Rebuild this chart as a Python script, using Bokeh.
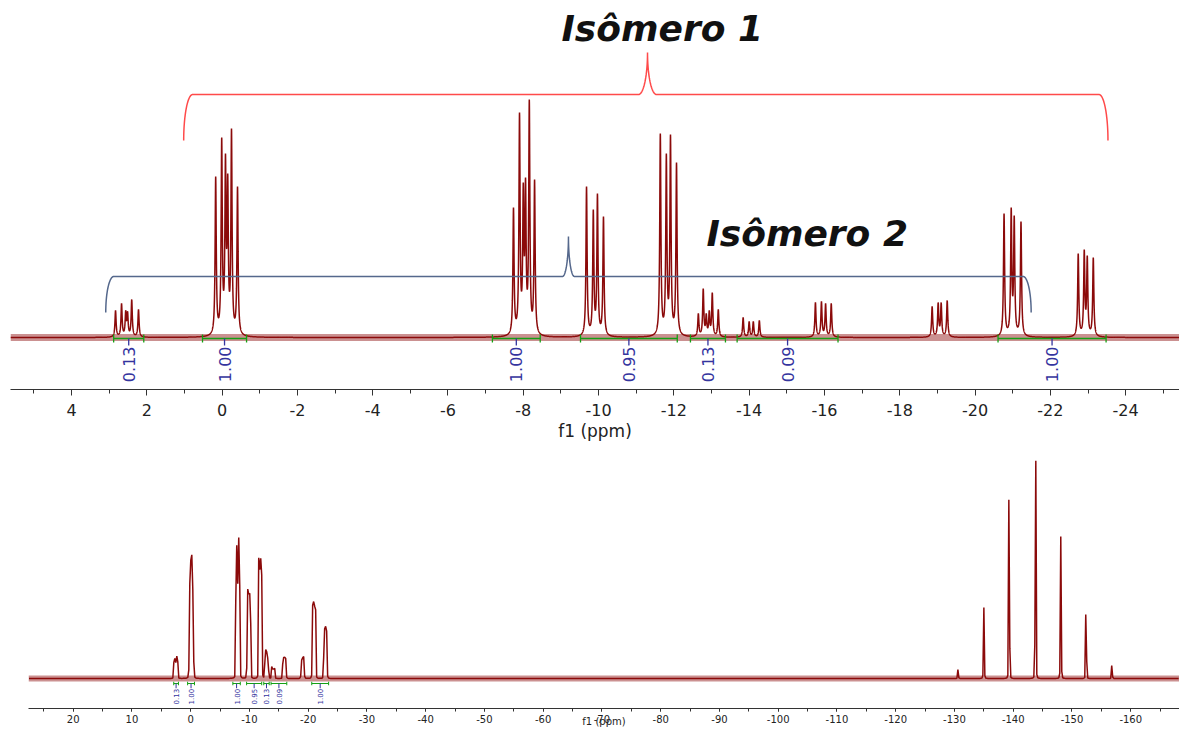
import numpy as np
from bokeh.plotting import figure
from bokeh.models import Range1d, SingleIntervalTicker, PrintfTickFormatter
from bokeh.core.properties import value
from bokeh.embed import file_html
from bokeh.resources import INLINE

# ---------------- data ----------------
# multiplets: chemical shift (ppm) and peak height (a.u.)
mA_ppm = [2.83, 2.67, 2.56, 2.51, 2.40, 2.22]
mA_h = [27, 34, 27, 26, 38, 28]
mB_ppm = [0.17, 0.01, -0.09, -0.15, -0.25, -0.41]
mB_h = [161, 200, 184, 164, 209, 151]
mC_ppm = [-7.74, -7.90, -8.00, -8.06, -8.16, -8.30]
mC_h = [130, 225, 155, 160, 238, 158]
mD_ppm = [-9.68, -9.86, -9.97, -10.13]
mD_h = [151, 128, 144, 121]
mE_ppm = [-11.64, -11.80, -11.91, -12.07]
mE_h = [204, 184, 203, 175]
mF_ppm = [-12.65, -12.78, -12.86, -12.94, -13.02, -13.18]
mF_h = [24, 49, 24, 27, 45, 28]
mG_ppm = [-13.84, -14.00, -14.11, -14.27]
mG_h = [20, 16, 16, 17]
mH_ppm = [-15.76, -15.92, -16.03, -16.18]
mH_h = [35, 36, 34, 34]
mI_ppm = [-18.86, -19.02, -19.10, -19.26]
mI_h = [31, 35, 35, 37]
mJ_ppm = [-20.77, -20.96, -21.04, -21.22]
mJ_h = [124, 130, 122, 116]
mK_ppm = [-22.74, -22.90, -22.98, -23.14]
mK_h = [84, 88, 82, 80]
# far upfield lines (only in the wide spectrum)
mL_ppm = [-130.6, -135.0, -139.3, -143.8, -148.1, -152.4, -156.8]
mL_h = [15, 120, 302, 368, 240, 108, 22]

# integrals: region start / end (ppm) and value
int_start = [2.88, 0.52, -7.18, -9.52, -12.44, -13.68, -20.61]
int_end = [2.08, -0.65, -8.45, -12.09, -13.37, -16.36, -23.48]
int_label = ["0.13", "1.00", "1.00", "0.95", "0.13", "0.09", "1.00"]

# isomer annotations
iso_labels = ["Isômero 1", "Isômero 2"]

# ---------------- spectrum construction ----------------
groups = [(mA_ppm, mA_h), (mB_ppm, mB_h), (mC_ppm, mC_h), (mD_ppm, mD_h),
          (mE_ppm, mE_h), (mF_ppm, mF_h), (mG_ppm, mG_h), (mH_ppm, mH_h),
          (mI_ppm, mI_h), (mJ_ppm, mJ_h), (mK_ppm, mK_h), (mL_ppm, mL_h)]
pk_ppm = np.array([v for g in groups for v in g[0]], dtype=float)
pk_h = np.array([v for g in groups for v in g[1]], dtype=float)

GAM = 0.018


def lor(x, c):
    return GAM ** 2 / ((x - c) ** 2 + GAM ** 2)


M = lor(pk_ppm[:, None], pk_ppm[None, :])
amp = np.clip(np.linalg.solve(M, pk_h), 0, None)


def spectrum(x):
    out = np.zeros_like(x)
    for a, c in zip(amp, pk_ppm):
        out += a * lor(x, c)
    return out


RED = "#8b0a0a"
BLUE_TXT = "#34349e"
GREEN = "#14a014"
FMT = PrintfTickFormatter(format="%d")

# ---------------- top figure ----------------
X0T, X1T = 5.62, -25.43
top = figure(width=1179, height=443, output_backend="svg", toolbar_location=None,
             x_range=Range1d(X0T, X1T), y_range=Range1d(-52, 337),
             min_border_left=10, min_border_right=0, min_border_top=0, min_border_bottom=0)
xt = np.arange(X0T, X1T, -0.002)
yt = spectrum(xt)
top.varea(x=[X0T, X1T], y1=[-3.5, -3.5], y2=[3.5, 3.5], fill_color=RED, fill_alpha=0.45)
top.line(xt, yt, line_color=RED, line_width=1.5)

# integrals (top)
cen = [(a + b) / 2 for a, b in zip(int_start, int_end)]
gy = -1
top.segment(x0=int_start, y0=[gy] * 7, x1=int_end, y1=[gy] * 7, line_color=GREEN, line_width=1.5)
top.segment(x0=int_start + int_end, y0=[gy - 4] * 14, x1=int_start + int_end, y1=[gy + 4] * 14,
            line_color=GREEN, line_width=1.3)
top.segment(x0=cen, y0=[gy] * 7, x1=cen, y1=[gy - 7] * 7, line_color=BLUE_TXT, line_width=1.3)
top.text(x=cen, y=[gy - 8] * 7, text=int_label, angle=np.pi / 2, text_align="right",
         text_baseline="middle", text_font=value("DejaVu Sans"), text_font_size="16px",
         text_color=BLUE_TXT)

# brackets
PX = 37.67  # px per ppm in top panel


def bracket(left, right, tip, y_end, y_bar, y_tip, rx_px, tw_px):
    rx = rx_px / PX
    tw = tw_px / PX
    hb = y_bar - y_end
    ht = y_tip - y_bar
    th = np.linspace(np.pi, np.pi / 2, 30)
    xs = list((left - rx) - rx * np.cos(th))
    ys = list(y_end + hb * np.sin(th))
    t = np.linspace(-np.pi / 2, 0, 30)
    xs += list((tip + tw) - tw * np.cos(t))
    ys += list(y_tip + ht * np.sin(t))
    t2 = np.linspace(np.pi, 3 * np.pi / 2, 30)
    xs += list((tip - tw) - tw * np.cos(t2))
    ys += list(y_tip + ht * np.sin(t2))
    t3 = np.linspace(np.pi / 2, 0, 30)
    xs += list((right + rx) - rx * np.cos(t3))
    ys += list(y_end + hb * np.sin(t3))
    return xs, ys


bx1, by1 = bracket(1.02, -23.53, -11.30, 197, 243, 285, 9, 9)
top.line(bx1, by1, line_color="#ff4a4a", line_width=1.5)
bx2, by2 = bracket(3.09, -21.49, -9.20, 25, 61, 101, 8, 6)
top.line(bx2, by2, line_color="#55688c", line_width=1.5)

top.text(x=[-11.69, -15.54], y=[309, 104], text=iso_labels, text_align="center",
         text_baseline="middle", text_font=value("DejaVu Sans"), text_font_style="bold italic",
         text_font_size="36px", text_color="#111111")

ax = top.xaxis[0]
ax.ticker = SingleIntervalTicker(interval=2, num_minor_ticks=2)
ax.formatter = FMT
ax.major_tick_out = 6
ax.major_tick_in = 0
ax.minor_tick_out = 4
ax.minor_tick_in = 0
ax.axis_line_color = "#333333"
ax.major_tick_line_color = "#333333"
ax.minor_tick_line_color = "#333333"
ax.axis_line_width = 1.2
ax.major_label_text_font = "DejaVu Sans"
ax.major_label_text_font_size = "16px"
ax.major_label_text_color = "#222222"
ax.major_label_standoff = 8
ax.axis_label = "f1 (ppm)"
ax.axis_label_text_font = "DejaVu Sans"
ax.axis_label_text_font_size = "17px"
ax.axis_label_text_font_style = "normal"
ax.axis_label_text_color = "#222222"
ax.axis_label_standoff = 2
top.yaxis.visible = False
top.grid.visible = False
top.outline_line_color = None

# ---------------- bottom figure ----------------
X0B, X1B = 27.6, -168.3
SC = 0.592  # px per intensity unit in the wide panel
bot = figure(width=1179, height=286, output_backend="svg", toolbar_location=None,
             x_range=Range1d(X0B, X1B), y_range=Range1d(-30 / SC, -30 / SC + 265 / SC),
             min_border_left=28, min_border_right=0, min_border_top=0, min_border_bottom=0)
xb_f = np.arange(X0B, X1B, -0.002)
yb_f = spectrum(xb_f)
nb = 85
nbin = len(xb_f) // nb
xb = xb_f[:nbin * nb].reshape(nbin, nb).mean(axis=1)
yb = yb_f[:nbin * nb].reshape(nbin, nb).max(axis=1)
bot.varea(x=[X0B, X1B], y1=[-5, -5], y2=[5, 5], fill_color=RED, fill_alpha=0.45)
bot.line(xb, yb, line_color=RED, line_width=1.5)

gyb = -5 / SC
bot.segment(x0=int_start, y0=[gyb] * 7, x1=int_end, y1=[gyb] * 7, line_color=GREEN, line_width=1.2)
bot.segment(x0=int_start + int_end, y0=[gyb - 3] * 14, x1=int_start + int_end, y1=[gyb + 3] * 14,
            line_color=GREEN, line_width=1)
bot.segment(x0=cen, y0=[gyb] * 7, x1=cen, y1=[gyb - 8] * 7, line_color=BLUE_TXT, line_width=1)
bot.text(x=cen, y=[gyb - 9] * 7, text=int_label, angle=np.pi / 2, text_align="right",
         text_baseline="middle", text_font=value("DejaVu Sans"), text_font_size="7px",
         text_color=BLUE_TXT)

bx = bot.xaxis[0]
bx.ticker = SingleIntervalTicker(interval=10, num_minor_ticks=2)
bx.formatter = FMT
bx.major_tick_out = 3
bx.major_tick_in = 0
bx.minor_tick_out = 3
bx.minor_tick_in = 0
bx.axis_line_color = "#333333"
bx.major_tick_line_color = "#333333"
bx.minor_tick_line_color = "#333333"
bx.axis_line_width = 1.2
bx.major_label_text_font = "DejaVu Sans"
bx.major_label_text_font_size = "10px"
bx.major_label_text_color = "#222222"
bx.major_label_standoff = 3
bx.axis_label = "f1 (ppm)"
bx.axis_label_text_font = "DejaVu Sans"
bx.axis_label_text_font_size = "10px"
bx.axis_label_text_font_style = "normal"
bx.axis_label_text_color = "#222222"
bx.axis_label_standoff = -10
bot.yaxis.visible = False
bot.grid.visible = False
bot.outline_line_color = None

open("out.html", "w").write(file_html([top, bot], INLINE))
